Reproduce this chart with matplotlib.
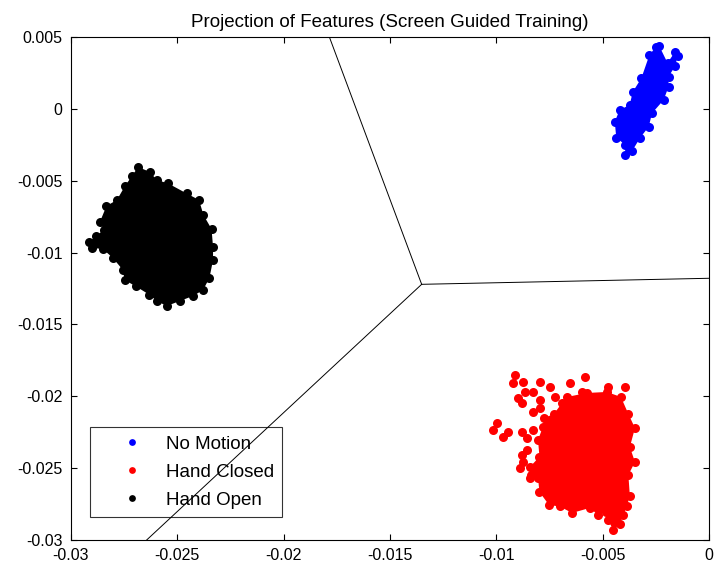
import matplotlib
matplotlib.use("Agg")
import matplotlib.pyplot as plt

plt.rcParams["font.family"] = ["Liberation Sans", "DejaVu Sans"]

# Class names as shown in the legend
classes = ["No Motion", "Hand Closed", "Hand Open"]
colors = ["#0000ff", "#ff0000", "#000000"]

# Outline of each feature cluster
no_motion_x = [-0.00233, -0.00195, -0.00160, -0.00147, -0.00158, -0.00190, -0.00190,
               -0.00213, -0.00268, -0.00283, -0.00323, -0.00360, -0.00395, -0.00393,
               -0.00436, -0.00443, -0.00420, -0.00373, -0.00358, -0.00318, -0.00280,
               -0.00250]
no_motion_y = [0.00435, 0.00320, 0.00395, 0.00370, 0.00300, 0.00224, 0.00154,
               0.00062, -0.00031, -0.00124, -0.00200, -0.00290, -0.00320, -0.00252,
               -0.00200, -0.00089, -0.00008, 0.00027, 0.00119, 0.00213, 0.00375,
               0.00430]

hand_closed_x = [-0.00668, -0.00574, -0.00480, -0.00414, -0.00379, -0.00348, -0.00372,
                 -0.00348, -0.00379, -0.00372, -0.00386, -0.00402, -0.00419, -0.00450,
                 -0.00474, -0.00484, -0.00521, -0.00560, -0.00644, -0.00701, -0.00752,
                 -0.00797, -0.00804, -0.00837, -0.00842, -0.00797, -0.00804, -0.00781,
                 -0.00774, -0.00729, -0.00691]
hand_closed_y = [-0.02005, -0.01977, -0.01970, -0.02005, -0.02123, -0.02221, -0.02353,
                 -0.02457, -0.02548, -0.02694, -0.02764, -0.02826, -0.02889, -0.02931,
                 -0.02861, -0.02805, -0.02826, -0.02777, -0.02812, -0.02767, -0.02757,
                 -0.02666, -0.02569, -0.02548, -0.02492, -0.02421, -0.02304, -0.02214,
                 -0.02151, -0.02123, -0.02047]

# Loose Hand Closed points left of the main body
hand_closed_out_x = [-0.00912, -0.00920, -0.00873, -0.00865, -0.00897, -0.00881, -0.00826,
                     -0.00795, -0.00795, -0.00748, -0.00724, -0.00795, -0.00826, -0.00654,
                     -0.00583, -0.00599, -0.00474, -0.00395, -0.00998, -0.01014, -0.00967,
                     -0.00944, -0.00881, -0.00857, -0.00826, -0.00857, -0.00881, -0.00873,
                     -0.00889, -0.00842]
hand_closed_out_y = [-0.01852, -0.01910, -0.01899, -0.01968, -0.02014, -0.02049, -0.01968,
                     -0.01899, -0.02026, -0.01933, -0.02003, -0.02084, -0.02107, -0.01910,
                     -0.01864, -0.01968, -0.01933, -0.01938, -0.02188, -0.02235, -0.02281,
                     -0.02247, -0.02247, -0.02292, -0.02235, -0.02374, -0.02409, -0.02455,
                     -0.02501, -0.02571]

hand_open_x = [-0.02684, -0.02629, -0.02597, -0.02543, -0.02456, -0.02398, -0.02377,
               -0.02339, -0.02332, -0.02332, -0.02349, -0.02379, -0.02426, -0.02488,
               -0.02550, -0.02596, -0.02633, -0.02694, -0.02748, -0.02756, -0.02803,
               -0.02850, -0.02901, -0.02915, -0.02882, -0.02845, -0.02864, -0.02833,
               -0.02784, -0.02746, -0.02713]
hand_open_y = [-0.00405, -0.00439, -0.00495, -0.00519, -0.00589, -0.00634, -0.00739,
               -0.00836, -0.00961, -0.01052, -0.01177, -0.01261, -0.01302, -0.01337,
               -0.01372, -0.01337, -0.01292, -0.01236, -0.01191, -0.01121, -0.01038,
               -0.00975, -0.00968, -0.00927, -0.00885, -0.00843, -0.00787, -0.00676,
               -0.00634, -0.00537, -0.00467]

# Decision boundaries: centre point and the three far ends
centre = (-0.01351, -0.01221)
boundary_ends = [(-0.01785, 0.005), (0.0, -0.01179), (-0.02644, -0.03)]

x_ticks = [-0.03, -0.025, -0.02, -0.015, -0.01, -0.005, 0]
y_ticks = [0.005, 0, -0.005, -0.01, -0.015, -0.02, -0.025, -0.03]

fig = plt.figure(figsize=(7.17, 5.69), dpi=100)
ax = fig.add_axes([0.099, 0.051, 0.8898, 0.884])

clusters = [
    (no_motion_x, no_motion_y),
    (hand_closed_x, hand_closed_y),
    (hand_open_x, hand_open_y),
]
for (cx, cy), name, col in zip(clusters, classes, colors):
    ax.fill(cx, cy, color=col, lw=0)
    ax.plot(cx, cy, "o", color=col, ms=6.5, mew=0, label=name)
ax.plot(hand_closed_out_x, hand_closed_out_y, "o", color=colors[1], ms=6.5, mew=0)

for ex, ey in boundary_ends:
    ax.plot([centre[0], ex], [centre[1], ey], color="black", lw=0.7)

ax.set_xlim(-0.03, 0)
ax.set_ylim(-0.03, 0.005)
ax.set_xticks(x_ticks)
ax.set_xticklabels(["-0.03", "-0.025", "-0.02", "-0.015", "-0.01", "-0.005", "0"])
ax.set_yticks(y_ticks)
ax.set_yticklabels(["0.005", "0", "-0.005", "-0.01", "-0.015", "-0.02", "-0.025", "-0.03"])
ax.tick_params(direction="in", length=4, width=0.8, labelsize=11.5,
               top=True, right=True, pad=6)
for sp in ax.spines.values():
    sp.set_linewidth(0.8)

ax.set_title("Projection of Features (Screen Guided Training)", fontsize=13.5, pad=7)

leg = ax.legend(loc="upper left", bbox_to_anchor=(0.0298, 0.2247), fontsize=13.5,
                frameon=True, fancybox=False, edgecolor="black", facecolor="none",
                framealpha=None, handlelength=3.6, handletextpad=0.0,
                borderpad=0.45, labelspacing=0.58, borderaxespad=0, markerscale=0.75)
leg.get_frame().set_linewidth(0.8)

fig.savefig("out.png", dpi=100)
